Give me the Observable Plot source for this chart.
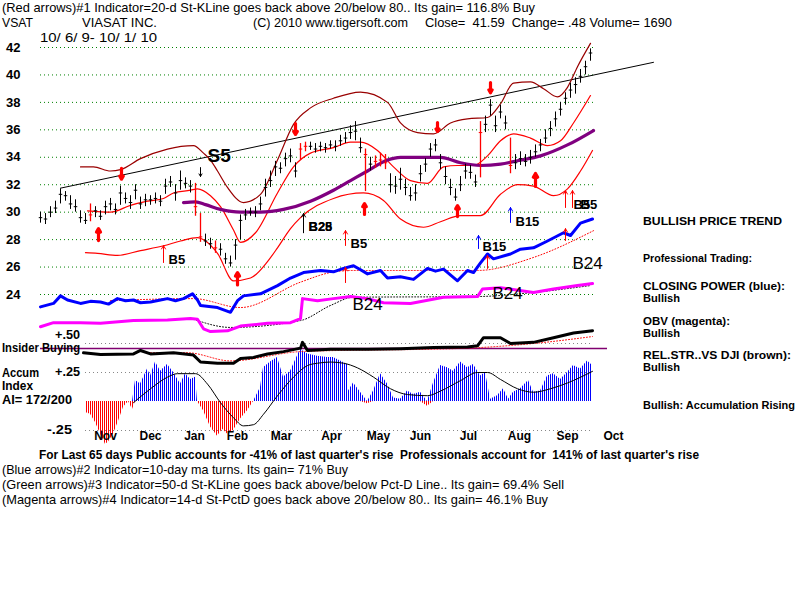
<!DOCTYPE html>
<html><head><meta charset="utf-8">
<script src="https://cdn.jsdelivr.net/npm/d3@7"></script>
<script src="https://cdn.jsdelivr.net/npm/@observablehq/plot@0.6"></script>
<style>
html,body{margin:0;padding:0;background:#fff;}
#wrap{position:relative;width:800px;height:600px;overflow:hidden;background:#fff;}
#wrap > svg{position:absolute;left:0;}
</style></head><body><div id="wrap"></div>
<script>
// ---------------- DATA (x = bar index, one bar every ~2 trading days) ----------------
const priceClose = [
29.6,29.5,30.0,30.3,31.3,31.2,30.6,30.4,29.6,29.4,
29.8,30.1,29.7,30.4,30.6,30.2,31.4,31.0,30.7,31.6,
30.6,30.9,30.9,31.0,30.8,31.9,32.2,31.4,32.3,32.1,
31.9,30.4,28.2,27.9,27.7,27.4,27.3,26.6,26.3,27.6,
29.4,29.8,30.0,30.0,30.6,31.8,32.3,33.3,33.2,33.9,
34.1,33.0,34.6,34.8,34.8,34.6,34.8,34.7,34.9,34.8,
35.2,35.4,35.8,35.9,34.7,34.2,33.5,33.7,33.8,33.6,
32.0,31.9,32.4,31.8,31.2,31.4,32.8,33.5,34.6,34.9,
33.6,32.6,31.8,31.1,32.0,33.0,32.9,32.2,35.8,36.4,
37.8,36.3,37.3,36.5,33.4,33.6,33.9,33.7,34.0,34.4,
34.9,35.4,36.1,36.8,37.5,38.3,38.9,39.3,39.9,40.6,
41.6];
const priceLow = [
29.2,29.1,29.6,29.9,30.6,30.8,30.2,30.0,29.2,29.1,
29.3,29.6,29.4,29.8,30.1,29.8,30.5,30.6,30.2,30.9,
30.2,30.4,30.5,30.6,30.4,31.3,31.8,30.8,31.6,31.7,
31.4,29.7,27.8,27.5,27.3,27.0,26.8,26.2,26.0,26.5,
28.0,29.4,29.7,29.6,30.1,31.1,31.8,32.6,32.8,33.3,
33.6,32.5,33.8,34.4,34.5,34.3,34.4,34.3,34.6,34.4,
34.8,35.0,35.3,35.2,34.3,31.5,33.0,33.2,33.3,33.1,
31.4,31.3,31.6,31.2,30.8,30.8,32.2,32.9,34.0,34.4,
33.1,32.0,31.2,30.8,31.5,32.4,32.4,31.8,32.5,35.8,
37.0,35.8,36.8,36.0,32.8,33.1,33.4,33.3,33.5,34.0,
34.4,35.0,35.5,36.2,37.0,37.8,38.3,38.6,39.4,40.0,
41.0];
const priceHigh = [
30.0,29.9,30.4,30.8,31.7,31.5,31.2,30.9,30.1,29.9,
30.6,30.4,30.1,30.8,31.0,30.6,31.9,31.4,31.2,32.0,
31.1,31.3,31.2,31.4,31.2,32.4,32.6,32.0,33.0,32.5,
32.3,32.1,29.9,28.4,28.1,27.9,27.7,27.0,26.8,28.0,
29.8,30.2,30.3,30.4,31.1,32.4,33.0,33.7,33.6,34.3,
34.6,33.6,35.0,35.1,35.1,35.0,35.1,35.0,35.2,35.2,
35.6,35.8,36.3,36.6,35.4,34.6,34.0,34.1,34.3,34.2,
32.8,32.6,33.2,32.4,31.8,32.0,33.4,33.9,35.0,35.3,
34.2,33.3,32.4,31.7,32.6,33.5,33.4,32.7,36.6,37.0,
38.2,37.0,37.8,37.0,35.4,34.2,34.4,34.2,34.5,34.9,
35.3,36.0,36.6,37.3,38.0,38.7,39.4,39.8,40.4,41.0,
41.9];
const redBars = [10,31,32,35,52,53,65,67,68,69,88,94];
const priceTicks = [24,26,28,30,32,34,36,38,40,42];

const trendLine = [[4,31.75],[122.6,40.92]];
const maroonBand = [[8,33.3],[10.6,33.3],[14,33.0],[16,33.1],[20,33.9],[25.4,34.6],[30.6,34.85],[32.6,34.3],[34,33.8],[35.4,33.0],[37.4,31.8],[40.6,30.7],[44,31.3],[47.4,33.8],[50.6,36.4],[54,37.6],[58.6,38.3],[64,38.75],[69.4,38.0],[72,36.5],[75.4,35.8],[78.6,35.7],[82,36.5],[85.4,36.8],[89.4,36.9],[92,37.9],[94.6,39.4],[98,39.5],[100.6,39.0],[103.4,38.4],[105.4,39.1],[107.4,40.6],[110,42.3]];
const redUpper = [[9.4,30.1],[14,30.0],[18,30.5],[21.4,30.8],[24.6,31.0],[26.6,31.4],[30,31.6],[31.4,31.7],[34,31.2],[36,30.4],[38.6,28.7],[40,27.8],[43,28.5],[47.4,31.4],[50.6,33.3],[54,34.3],[58.6,34.7],[62,35.1],[64,35.1],[67.4,34.5],[70.6,33.3],[74,32.3],[77.4,32.1],[80.6,33.3],[83.4,33.4],[86.6,33.4],[89.4,34.1],[92,35.2],[94.6,35.7],[98,35.4],[101.4,34.85],[104,35.2],[106.6,36.5],[110,38.5]];
const redLower = [[9,27.05],[11.4,27.0],[15.4,26.85],[20,27.2],[24.6,27.55],[28,27.9],[31.4,28.15],[33,27.9],[35.4,27.0],[38.6,25.0],[42,25.2],[45.4,26.4],[47.4,27.4],[50,28.8],[52,29.6],[58.6,31.0],[64.6,31.4],[68.6,30.85],[72,29.5],[76.6,28.9],[80,29.3],[84,29.75],[88,29.75],[92,31.3],[95.4,32.0],[98.6,31.9],[102.6,31.2],[105.4,31.7],[108,33.0],[110.4,34.5]];
const ma50 = [[28.6,30.7],[31,30.75],[33,30.55],[36,30.2],[40,30.0],[44,30.0],[48.6,30.2],[54,30.8],[58.6,31.6],[62,32.3],[65.4,33.0],[69.4,33.8],[72,34.0],[76,34.0],[80,34.0],[84,33.6],[88,33.4],[92,33.5],[95.4,33.75],[100,34.1],[105.4,34.9],[110.6,35.95]];

const closingPower = [[0,23.1],[2.6,23.35],[4,23.9],[5.4,23.6],[8,23.35],[10,23.5],[12,23.45],[13.6,23.3],[15.4,23.7],[17,23.55],[18.6,23.6],[20,23.4],[22,23.45],[24,23.6],[25.4,23.7],[27,23.55],[28.6,23.7],[30.4,24.05],[31.4,23.6],[32,23.2],[35.4,23.05],[38,22.7],[39.4,23.55],[40.6,23.9],[44,24.05],[47.4,24.65],[50,25.2],[52.6,25.6],[56,25.75],[58.6,25.65],[60.6,25.9],[62.6,26.1],[64,25.8],[65.4,25.5],[68,25.75],[69.4,25.2],[72,25.3],[74.6,25.1],[77.4,25.9],[79,25.7],[80.6,25.85],[83.4,25.0],[85.4,25.75],[86.6,25.6],[88,26.3],[89.4,26.95],[90.6,26.6],[94,26.95],[96,27.3],[98.6,27.4],[101.4,27.9],[104.6,28.5],[106,28.3],[108,29.2],[110.4,29.5]];
const closingPowerMA = [[14,23.55],[30.6,23.7],[40,23.05],[52,24.9],[58,25.6],[62,25.75],[78.6,25.75],[87.4,25.75],[98.6,26.7],[110.6,28.65]];
const obv = [[0,21.65],[2.6,21.95],[8,21.95],[12,21.9],[18.6,22.1],[25.4,22.15],[30,22.25],[31.4,22.2],[32.6,21.5],[34,21.3],[37.4,21.35],[40,21.7],[45.4,21.9],[50,21.95],[52,22.25],[52.4,23.7],[55.4,23.55],[58.6,23.7],[62,23.85],[65.4,23.7],[68.6,23.4],[74,23.35],[80.6,23.8],[87.4,23.85],[88.4,24.4],[92,24.5],[98.6,24.15],[102.6,24.4],[107.4,24.65],[110.4,24.8]];
const obvMA = [[30.6,22.2],[38,21.6],[52,22.1],[58,23.2],[62.6,23.8],[87.4,23.85],[98.6,24.15],[110,24.65]];

const aiValues = [[9,-0.095],[10,-0.11],[11,-0.18],[12,-0.28],[13,-0.37],[13.6,-0.35],[14.6,-0.28],[15.6,-0.17],[16.6,-0.05],[17.6,0.0],[18.4,-0.07],[19,0.18],[20,0.15],[21.4,0.28],[22,0.22],[23,0.34],[24,0.26],[25.4,0.32],[26.6,0.25],[28,0.15],[29,0.24],[30,0.19],[31,0.21],[31.4,0.0],[32.6,-0.08],[34,-0.22],[35.4,-0.30],[36.4,-0.24],[37.4,-0.28],[38.6,-0.25],[40,-0.15],[41.4,-0.08],[42.6,0.0],[44,0.12],[44.6,0.29],[46,0.34],[47.4,0.38],[48.6,0.21],[50,0.26],[52,0.45],[53.4,0.41],[55.4,0.39],[57.4,0.38],[58.6,0.38],[61.4,0.32],[61.6,0.09],[62.6,0.16],[64,0.08],[65.4,-0.02],[66.6,0.09],[68,0.24],[69.4,0.15],[70.6,0.03],[72,0.02],[73.4,0.09],[74.6,0.06],[76,0.08],[77.4,-0.04],[78.6,0.16],[80,0.31],[81.4,0.29],[82.6,0.26],[84,0.34],[85.4,0.29],[86.6,0.32],[88,0.22],[89,0.25],[90,0.02],[91.4,0.05],[92.6,0.11],[93.6,0.02],[94.6,0.08],[96,0.11],[97.6,0.18],[98.6,0.08],[100,0.09],[101.4,0.22],[102.6,0.24],[104,0.19],[105.4,0.25],[106.6,0.31],[108,0.28],[109.4,0.35],[110.4,0.31]];
const aiMA = [[18.6,-0.01],[22,0.11],[25.4,0.21],[27.4,0.24],[31,0.24],[33.4,0.15],[36,-0.01],[38.6,-0.14],[40.6,-0.21],[42.6,-0.20],[44.6,-0.11],[47.4,0.05],[50.6,0.21],[53.4,0.31],[55.4,0.33],[58,0.34],[60.6,0.33],[63.4,0.29],[66.6,0.21],[70,0.11],[73.4,0.06],[77.4,0.05],[80,0.09],[84,0.18],[87.4,0.25],[89.4,0.25],[92,0.19],[95.4,0.11],[98.6,0.08],[102,0.11],[105.4,0.16],[110.4,0.26]];
const relStr = [[8.6,0.42],[12,0.405],[18.6,0.41],[20,0.44],[22,0.41],[26.6,0.42],[30.6,0.40],[32,0.34],[35.4,0.33],[38.6,0.33],[40,0.37],[42.6,0.38],[45.4,0.41],[48.6,0.43],[52,0.46],[52.4,0.51],[53.4,0.44],[58,0.45],[65.4,0.45],[72,0.455],[78.6,0.465],[85.4,0.47],[87.4,0.48],[88.6,0.55],[92,0.55],[94,0.50],[98.6,0.51],[102.6,0.55],[106.6,0.59],[110.4,0.61]];
const relStrMA = [[22,0.42],[29.4,0.42],[38,0.35],[52,0.43],[85.4,0.46],[98.6,0.50],[110.4,0.56]];
const insiderLevel = 0.457;
const aiTicks = [0.5, 0.25, -0.25];

const months = ["Nov","Dec","Jan","Feb","Mar","Apr","May","Jun","Jul","Aug","Sep","Oct"];
const monthPos = [13,22,30.8,39.4,48.2,58.2,67.6,76,85.6,95.8,105.4,114.6];

// signal arrows: [x, tail, tip]
const sellArrows = [[16.2,33.2,32.4],[51,36.46,35.66],[79.4,36.53,35.88],[90,39.45,38.7]];
const buyArrows = [[11.6,27.93,28.8],[39.4,24.7,25.6],[64.8,29.83,30.63],[83.4,29.68,30.48],[99,31.87,32.82]];
const redThinArrows = [[24.6,26.33,27.57],[61,27.57,28.66],[105,30.34,31.57],[106.4,30.34,31.57],[61,24.87,25.97],[89.4,25.9,26.84],[105,27.93,28.8]];
const blackThinArrows = [[52.6,28.5,29.9],[32,33.25,32.6]];
const blueThinArrows = [[87.6,27.35,28.3],[94,29.25,30.34]];
const signalLabels = [["B5",25.6,26.55],["B5",62,27.7],["B25",53.6,28.9],["B28",53.6,28.9],["B15",88.4,27.45],["B15",95,29.3],["B5",106.6,30.5],["B5",108,30.5]];
const bigLabels = [["B24",106.4,26.25],["B24",62.4,23.27],["B24",90.4,24.07]];
const patternLabel = ["S5",33.4,34.13];

// texts
const headLine1 = "(Red arrows)#1 Indicator=20-d St-KLine goes back above 20/below 80.. Its gain= 116.8% Buy";
const headTicker = "VSAT", headName = "VIASAT INC.", headCopy = "(C) 2010 www.tigersoft.com";
const headQuote = "Close=  41.59  Change= .48 Volume= 1690";
const headDates = "10/ 6/ 9- 10/ 1/ 10";
const footLines = [
 "For Last 65 days Public accounts for -41% of last quarter's rise  Professionals account for  141% of last quarter's rise",
 "(Blue arrows)#2 Indicator=10-day ma turns. Its gain= 71% Buy",
 "(Green arrows)#3 Indicator=50-d St-KLine goes back above/below Pct-D Line.. Its gain= 69.4% Sell",
 "(Magenta arrows)#4 Indicator=14-d St-PctD goes back above 20/below 80.. Its gain= 46.1% Buy"];
const sideLines = ["BULLISH PRICE TREND","Professional Trading:","CLOSING POWER (blue):","Bullish","OBV (magenta):","Bullish","REL.STR..VS DJI (brown):","Bullish","Bullish: Accumulation Rising"];
const leftLines = ["Insider Buying","Accum","Index","AI= 172/200","+.50","+.25","-.25"];

// ---------------- DRAW ----------------
const FONT = "'Liberation Sans', Arial, Helvetica, sans-serif";
const bars = priceClose.map((c,i)=>({i, c, lo: priceLow[i], hi: priceHigh[i], red: redBars.includes(i)}));
const X = d=>d[0], Y = d=>d[1];

const p1 = Plot.plot({
  width: 800, height: 340,
  marginLeft: 40, marginRight: 210, marginTop: 47, marginBottom: 46,
  x: {domain:[0,110], range:[40,590], axis:null},
  y: {domain:[24,42], range:[294,47], axis:null},
  style: {background:"transparent", fontFamily: FONT, overflow:"visible"},
  marks: [
    Plot.ruleY(priceTicks, {y: d=>d, x1: 0, x2: 110.6, stroke:"#008000", strokeDasharray:"1,3"}),
    Plot.text(priceTicks, {y: d=>d, text: d=>String(d), frameAnchor:"left", textAnchor:"end", dx:-20, fontSize:13, fontWeight:"bold", fill:"#000"}),
    Plot.line(trendLine, {x:X, y:Y, stroke:"#000", strokeWidth:1}),
    Plot.line(maroonBand, {x:X, y:Y, stroke:"#990000", strokeWidth:1.2, curve:"monotone-x"}),
    Plot.line(redUpper, {x:X, y:Y, stroke:"#ff0000", strokeWidth:1.2, curve:"monotone-x"}),
    Plot.line(redLower, {x:X, y:Y, stroke:"#ff0000", strokeWidth:1.2, curve:"monotone-x"}),
    Plot.line(ma50, {x:X, y:Y, stroke:"#800080", strokeWidth:3.2, curve:"monotone-x"}),
    Plot.line(closingPowerMA, {x:X, y:Y, stroke:"#ff0000", strokeWidth:1, strokeDasharray:"1,2", curve:"monotone-x"}),
    Plot.line(obvMA, {x:X, y:Y, stroke:"#000", strokeWidth:1, strokeDasharray:"1,2", curve:"monotone-x"}),
    Plot.line(closingPower, {x:X, y:Y, stroke:"#0000ff", strokeWidth:3}),
    Plot.line(obv, {x:X, y:Y, stroke:"#ff00ff", strokeWidth:3}),
    Plot.ruleX(bars, {filter: d=>!d.red, x:"i", y1:"lo", y2:"hi", stroke:"#000", strokeWidth:1}),
    Plot.link(bars, {filter: d=>!d.red, x1: d=>d.i-0.35, x2: d=>d.i+0.35, y1:"c", y2:"c", stroke:"#000", strokeWidth:1}),
    Plot.ruleX(bars, {filter: d=>d.red, x:"i", y1:"lo", y2:"hi", stroke:"#ff0000", strokeWidth:1.3}),
    Plot.link(bars, {filter: d=>d.red, x1: d=>d.i-0.35, x2: d=>d.i+0.35, y1:"c", y2:"c", stroke:"#ff0000", strokeWidth:1}),
    Plot.arrow(sellArrows, {x1:d=>d[0], x2:d=>d[0], y1:d=>d[1], y2:d=>d[2], stroke:"#ff0000", strokeWidth:3.2, headLength:7}),
    Plot.arrow(buyArrows, {x1:d=>d[0], x2:d=>d[0], y1:d=>d[1], y2:d=>d[2], stroke:"#ff0000", strokeWidth:3.2, headLength:7}),
    Plot.arrow(redThinArrows, {x1:d=>d[0], x2:d=>d[0], y1:d=>d[1], y2:d=>d[2], stroke:"#ff0000", strokeWidth:1, headLength:6}),
    Plot.arrow(blackThinArrows, {x1:d=>d[0], x2:d=>d[0], y1:d=>d[1], y2:d=>d[2], stroke:"#000", strokeWidth:1, headLength:6}),
    Plot.arrow(blueThinArrows, {x1:d=>d[0], x2:d=>d[0], y1:d=>d[1], y2:d=>d[2], stroke:"#0000ff", strokeWidth:1, headLength:6}),
    Plot.text(signalLabels, {x:d=>d[1], y:d=>d[2], text:d=>d[0], textAnchor:"start", fontSize:13, fontWeight:"bold", fill:"#000"}),
    Plot.text(bigLabels, {x:d=>d[1], y:d=>d[2], text:d=>d[0], textAnchor:"start", fontSize:17, fill:"#000"}),
    Plot.text([patternLabel], {x:d=>d[1], y:d=>d[2], text:d=>d[0], textAnchor:"start", fontSize:19, fontWeight:"bold", fill:"#000"})
  ]
});
p1.style.top = "0px";

const p2 = Plot.plot({
  width: 800, height: 130,
  marginLeft: 40, marginRight: 210, marginTop: 23, marginBottom: 20,
  x: {domain:[0,110], range:[40,590], axis:null},
  y: {domain:[-0.25,0.5], range:[110,23], axis:null},
  style: {background:"transparent", fontFamily: FONT, overflow:"visible"},
  marks: [
    Plot.ruleY(aiTicks, {y:d=>d, x1:9, x2:110.6, stroke:"#888", strokeDasharray:"1,3"}),
    Plot.areaY(aiValues, {x:X, y1:0, y2:d=>Math.max(0,d[1]), fill:"url(#aiBlue)"}),
    Plot.areaY(aiValues, {x:X, y1:0, y2:d=>Math.min(0,d[1]), fill:"url(#aiRed)"}),
    Plot.line(aiMA, {x:X, y:Y, stroke:"#000", strokeWidth:1, curve:"monotone-x"}),
    Plot.ruleY([insiderLevel], {y:d=>d, x1:0, x2:113.4, stroke:"#800070", strokeWidth:1.5}),
    Plot.line(relStrMA, {x:X, y:Y, stroke:"#ff0000", strokeWidth:1, strokeDasharray:"1,2", curve:"monotone-x"}),
    Plot.line(relStr, {x:X, y:Y, stroke:"#000", strokeWidth:3}),
    Plot.text(months, {x:(d,i)=>monthPos[i], text:d=>d, frameAnchor:"bottom", dy:9, fontSize:12, fontWeight:"bold", fill:"#000"})
  ]
});
p2.style.top = "320px";

const NS = "http://www.w3.org/2000/svg";
function addPattern(svg, id, color) {
  let defs = svg.querySelector("defs");
  if (!defs) { defs = document.createElementNS(NS, "defs"); svg.insertBefore(defs, svg.firstChild); }
  const p = document.createElementNS(NS, "pattern");
  p.setAttribute("id", id); p.setAttribute("patternUnits", "userSpaceOnUse");
  p.setAttribute("width", 2); p.setAttribute("height", 10);
  const r = document.createElementNS(NS, "rect");
  r.setAttribute("x", 0); r.setAttribute("y", 0); r.setAttribute("width", 1); r.setAttribute("height", 10);
  r.setAttribute("fill", color); r.setAttribute("shape-rendering", "crispEdges");
  p.appendChild(r); defs.appendChild(p);
}
addPattern(p2, "aiBlue", "#0000ff");
addPattern(p2, "aiRed", "#ff0000");

const wrap = document.getElementById("wrap");
wrap.appendChild(p1);
wrap.appendChild(p2);

// text overlay
const ov = document.createElementNS(NS, "svg");
ov.setAttribute("width", 800); ov.setAttribute("height", 600);
ov.style.top = "0px";
function label(str, x, y, w, size, weight, color) {
  const t = document.createElementNS(NS, "text");
  t.setAttribute("x", x); t.setAttribute("y", y);
  t.setAttribute("font-size", size); t.setAttribute("font-weight", weight || "normal");
  t.setAttribute("font-family", FONT);
  t.setAttribute("fill", color || "#000");
  if (w) { t.setAttribute("textLength", w); t.setAttribute("lengthAdjust", "spacingAndGlyphs"); }
  t.style.whiteSpace = "pre";
  t.textContent = str;
  ov.appendChild(t);
}
label(headLine1, 2, 12, 533, 13);
label(headTicker, 2, 27, 31, 13);
label(headName, 82, 27, 75, 13);
label(headCopy, 253, 27, 155, 13);
label(headQuote, 425, 27, 247, 13);
label(headDates, 40, 42, 117, 13);

label(footLines[0], 39, 459, 660, 13, "bold");
label(footLines[1], 2, 474, 346, 13);
label(footLines[2], 2, 489, 562, 13);
label(footLines[3], 2, 504, 546, 13);

label(sideLines[0], 643, 225, 139, 11, "bold");
label(sideLines[1], 643, 262, 109, 11, "bold");
label(sideLines[2], 643, 290, 142, 11, "bold");
label(sideLines[3], 643, 302, 37, 11, "bold");
label(sideLines[4], 643, 325, 87, 11, "bold");
label(sideLines[5], 643, 337, 37, 11, "bold");
label(sideLines[6], 643, 359, 148, 11, "bold");
label(sideLines[7], 643, 371, 37, 11, "bold");
label(sideLines[8], 643, 409, 152, 11, "bold");

label(leftLines[0], 2, 352, 78, 12.5, "bold");
label(leftLines[1], 2, 377, 37, 12, "bold");
label(leftLines[2], 2, 390, 31, 12, "bold");
label(leftLines[3], 2, 404, 70, 12, "bold");
label(leftLines[4], 55, 339, 25, 12.5, "bold");
label(leftLines[5], 55, 376, 25, 12.5, "bold");
label(leftLines[6], 47, 434, 25, 12.5, "bold");
wrap.appendChild(ov);
</script></body></html>
